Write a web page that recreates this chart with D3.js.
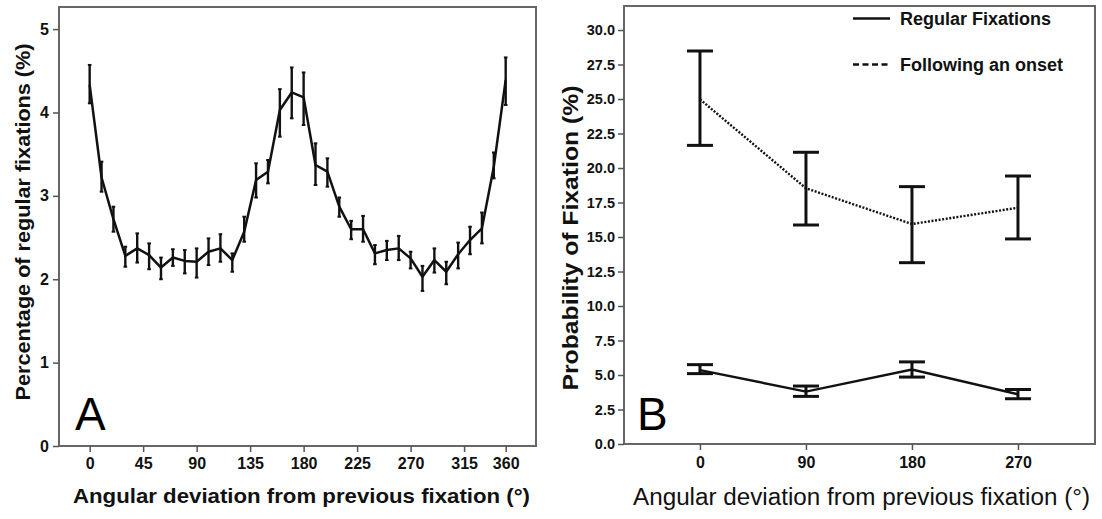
<!DOCTYPE html>
<html>
<head>
<meta charset="utf-8">
<script src="https://cdn.jsdelivr.net/npm/d3@7"></script>
<style>
  html, body { margin: 0; padding: 0; background: #fff; }
  svg { display: block; font-family: "Liberation Sans", Arial, sans-serif; }
</style>
</head>
<body>
<svg id="chart" width="1102" height="519"></svg>
<script>
// ---------- Panel A data ----------
const anglesA = [0,10,20,30,40,50,60,70,80,90,100,110,120,130,140,150,160,170,
                 180,190,200,210,220,230,240,250,260,270,280,290,300,310,320,330,340,350];
const meanA = [4.33,3.22,2.72,2.28,2.37,2.29,2.14,2.26,2.22,2.21,2.33,2.37,2.23,2.57,3.19,3.29,4.03,4.24,
               4.18,3.37,3.29,2.87,2.60,2.60,2.31,2.35,2.37,2.25,2.03,2.23,2.09,2.30,2.47,2.61,3.35,4.39];
const lowA  = [4.11,3.05,2.57,2.15,2.20,2.12,2.00,2.16,2.07,2.02,2.17,2.21,2.09,2.45,2.98,3.15,3.71,3.93,
               3.85,3.13,3.11,2.75,2.48,2.45,2.18,2.23,2.23,2.13,1.86,2.08,1.94,2.13,2.30,2.43,3.21,4.09];
const highA = [4.57,3.41,2.87,2.39,2.55,2.43,2.26,2.36,2.35,2.37,2.49,2.54,2.31,2.75,3.39,3.43,4.28,4.54,
               4.48,3.63,3.45,2.98,2.70,2.76,2.41,2.46,2.52,2.33,2.16,2.37,2.21,2.44,2.63,2.80,3.52,4.66];
const xTickPosA = [0,45,90,135,180,225,270,315,350];
const xTickLabelsA = ["0","45","90","135","180","225","270","315","360"];
const yTicksA = [0,1,2,3,4,5];

// ---------- Panel B data ----------
const anglesB = [0,90,180,270];
const regularMean = [5.35,3.80,5.40,3.60];
const regularLow  = [5.10,3.45,4.85,3.28];
const regularHigh = [5.75,4.20,5.95,3.95];
const onsetMean = [24.98,18.53,15.94,17.12];
const onsetLow  = [21.64,15.87,13.14,14.86];
const onsetHigh = [28.48,21.14,18.65,19.42];
const yTicksB = [0,2.5,5,7.5,10,12.5,15,17.5,20,22.5,25,27.5,30];
const legendLabels = ["Regular Fixations","Following an onset"];

const svg = d3.select("#chart");
const FRAME = "#666";
const FONT = "'Liberation Sans', Arial, sans-serif";

// ================= Panel A =================
const A = {left:59, right:536, top:7, bottom:446};
const xA = d3.scaleLinear().domain([-25.8, 375.5]).range([A.left, A.right]);
const yA = d3.scaleLinear().domain([0, 5.265]).range([A.bottom, A.top]);
const gA = svg.append("g");

gA.append("rect").attr("x",A.left).attr("y",A.top)
  .attr("width",A.right-A.left).attr("height",A.bottom-A.top)
  .attr("fill","none").attr("stroke",FRAME).attr("stroke-width",2);

const axA = gA.append("g").attr("transform",`translate(0,${A.bottom})`)
  .call(d3.axisBottom(xA).tickValues(xTickPosA).tickFormat((d,i)=>xTickLabelsA[i]).tickSizeOuter(0).tickSize(6).tickPadding(6));
axA.select(".domain").remove();
axA.selectAll(".tick line").attr("stroke","#555").attr("stroke-width",1.5);
axA.selectAll(".tick text").attr("fill","#111").attr("font-size",16).attr("font-weight","bold")
  .attr("font-family",FONT);

const ayA = gA.append("g").attr("transform",`translate(${A.left},0)`)
  .call(d3.axisLeft(yA).tickValues(yTicksA).tickFormat(d3.format("d")).tickSizeOuter(0).tickSize(6).tickPadding(4));
ayA.select(".domain").remove();
ayA.selectAll(".tick line").attr("stroke","#555").attr("stroke-width",1.5);
ayA.selectAll(".tick text").attr("fill","#111").attr("font-size",16).attr("font-weight","bold")
  .attr("font-family",FONT);

const ptsA = anglesA.map((a,i)=>({a, m:meanA[i], lo:lowA[i], hi:highA[i]}));
const ebA = gA.append("g");
ebA.append("g").selectAll("line").data(ptsA).join("line")
  .attr("x1",d=>xA(d.a)).attr("x2",d=>xA(d.a))
  .attr("y1",d=>yA(d.lo)).attr("y2",d=>yA(d.hi))
  .attr("stroke","#111").attr("stroke-width",2.4);
ebA.append("g").selectAll("line").data(ptsA).join("line")
  .attr("x1",d=>xA(d.a)-1.8).attr("x2",d=>xA(d.a)+1.8)
  .attr("y1",d=>yA(d.hi)).attr("y2",d=>yA(d.hi))
  .attr("stroke","#111").attr("stroke-width",2);
ebA.append("g").selectAll("line").data(ptsA).join("line")
  .attr("x1",d=>xA(d.a)-1.8).attr("x2",d=>xA(d.a)+1.8)
  .attr("y1",d=>yA(d.lo)).attr("y2",d=>yA(d.lo))
  .attr("stroke","#111").attr("stroke-width",2);
gA.append("path").datum(ptsA)
  .attr("d", d3.line().x(d=>xA(d.a)).y(d=>yA(d.m)))
  .attr("fill","none").attr("stroke","#111").attr("stroke-width",2.5).attr("stroke-linejoin","round");

gA.append("text").attr("x",75).attr("y",430).attr("font-size",46).attr("fill","#000").text("A");

gA.append("text").attr("x",73).attr("y",503).attr("font-size",21).attr("font-weight","bold")
  .attr("fill","#111").attr("textLength",457).attr("lengthAdjust","spacingAndGlyphs")
  .text("Angular deviation from previous fixation (°)");
gA.append("text").attr("transform","translate(30,222) rotate(-90)").attr("text-anchor","middle")
  .attr("font-size",20).attr("font-weight","bold").attr("fill","#111")
  .attr("textLength",357).attr("lengthAdjust","spacingAndGlyphs")
  .text("Percentage of regular fixations (%)");

// ================= Panel B =================
const B = {left:624, right:1095, top:6, bottom:444};
const xB = d3.scaleLinear().domain([-64.5, 335.4]).range([B.left, B.right]);
const yB = d3.scaleLinear().domain([0, 31.74]).range([B.bottom, B.top]);
const gB = svg.append("g");

gB.append("rect").attr("x",B.left).attr("y",B.top)
  .attr("width",B.right-B.left).attr("height",B.bottom-B.top)
  .attr("fill","none").attr("stroke",FRAME).attr("stroke-width",2);

const axB = gB.append("g").attr("transform",`translate(0,${B.bottom})`)
  .call(d3.axisBottom(xB).tickValues(anglesB).tickFormat(d3.format("d")).tickSizeOuter(0).tickSize(6).tickPadding(7));
axB.select(".domain").remove();
axB.selectAll(".tick line").attr("stroke","#555").attr("stroke-width",1.5);
axB.selectAll(".tick text").attr("fill","#111").attr("font-size",16).attr("font-weight","bold")
  .attr("font-family",FONT);

const ayB = gB.append("g").attr("transform",`translate(${B.left},0)`)
  .call(d3.axisLeft(yB).tickValues(yTicksB).tickFormat(d3.format(".1f")).tickSizeOuter(0).tickSize(6).tickPadding(3));
ayB.select(".domain").remove();
ayB.selectAll(".tick line").attr("stroke","#555").attr("stroke-width",1.5);
ayB.selectAll(".tick text").attr("fill","#111").attr("font-size",14.5).attr("font-weight","bold")
  .attr("font-family",FONT);

function seriesB(means, lows, highs, dash) {
  const pts = anglesB.map((a,i)=>({a, m:means[i], lo:lows[i], hi:highs[i]}));
  const g = gB.append("g");
  g.append("path").datum(pts)
    .attr("d", d3.line().x(d=>xB(d.a)).y(d=>yB(d.m)))
    .attr("fill","none").attr("stroke","#111").attr("stroke-width",2.4)
    .attr("stroke-dasharray", dash);
  g.append("g").selectAll("line").data(pts).join("line")
    .attr("x1",d=>xB(d.a)).attr("x2",d=>xB(d.a))
    .attr("y1",d=>yB(d.lo)).attr("y2",d=>yB(d.hi))
    .attr("stroke","#111").attr("stroke-width",3);
  g.append("g").selectAll("line").data(pts).join("line")
    .attr("x1",d=>xB(d.a)-13).attr("x2",d=>xB(d.a)+13)
    .attr("y1",d=>yB(d.hi)).attr("y2",d=>yB(d.hi))
    .attr("stroke","#111").attr("stroke-width",3);
  g.append("g").selectAll("line").data(pts).join("line")
    .attr("x1",d=>xB(d.a)-13).attr("x2",d=>xB(d.a)+13)
    .attr("y1",d=>yB(d.lo)).attr("y2",d=>yB(d.lo))
    .attr("stroke","#111").attr("stroke-width",3);
}
seriesB(regularMean, regularLow, regularHigh, null);
seriesB(onsetMean, onsetLow, onsetHigh, "2,1.6");

// legend
const leg = gB.append("g");
const legDash = [null, "6,3.5"];
legendLabels.forEach((lab,i)=>{
  const y = 18.5 + i*46;
  leg.append("line").attr("x1",853).attr("x2",890).attr("y1",y).attr("y2",y)
    .attr("stroke","#111").attr("stroke-width",2.6).attr("stroke-dasharray",legDash[i]);
  leg.append("text").attr("x",900).attr("y",y+6.5).attr("font-size",18).attr("font-weight","bold")
    .attr("fill","#111").text(lab);
});

gB.append("text").attr("x",637).attr("y",430).attr("font-size",46).attr("fill","#000").text("B");

gB.append("text").attr("x",633).attr("y",505).attr("font-size",23)
  .attr("fill","#111").attr("textLength",457).attr("lengthAdjust","spacingAndGlyphs")
  .text("Angular deviation from previous fixation (°)");
gB.append("text").attr("transform","translate(578,238) rotate(-90)").attr("text-anchor","middle")
  .attr("font-size",22).attr("font-weight","bold").attr("fill","#111")
  .attr("textLength",305).attr("lengthAdjust","spacingAndGlyphs")
  .text("Probability of Fixation (%)");
</script>
</body>
</html>
